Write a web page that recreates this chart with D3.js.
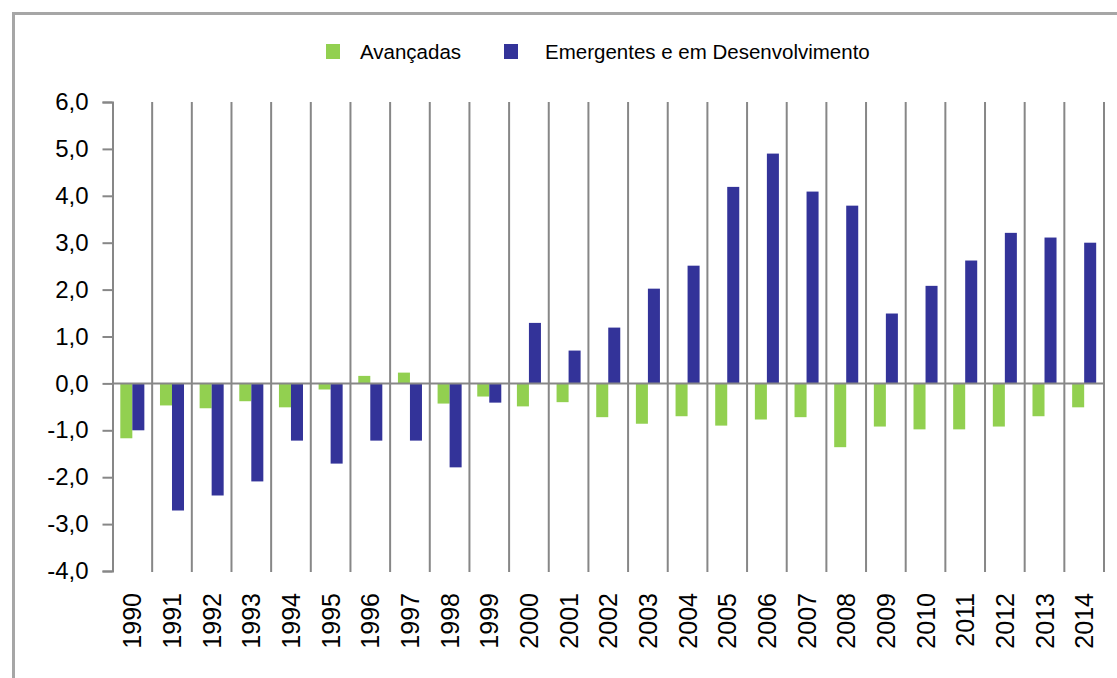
<!DOCTYPE html>
<html lang="pt">
<head>
	<meta charset="UTF-8">
	<title>Avançadas vs Emergentes</title>
	<script src="https://cdn.jsdelivr.net/npm/d3@7"></script>
	<style>
		body { margin: 0; background: #fff; }
		text { font-family: "Liberation Sans", Arial, sans-serif; fill: #000; }
	</style>
</head>
<body>
	<svg id="svg"></svg>
	<script>
		var years = ["1990","1991","1992","1993","1994","1995","1996","1997","1998","1999",
			"2000","2001","2002","2003","2004","2005","2006","2007","2008","2009",
			"2010","2011","2012","2013","2014"];
		var seriesNames = ["Avançadas", "Emergentes e em Desenvolvimento"];
		var avancadas = [-1.17,-0.47,-0.53,-0.38,-0.51,-0.13,0.16,0.23,-0.43,-0.28,
			-0.49,-0.40,-0.72,-0.86,-0.70,-0.90,-0.77,-0.72,-1.36,-0.92,
			-0.98,-0.98,-0.92,-0.70,-0.51];
		var emergentes = [-1.0,-2.71,-2.39,-2.09,-1.22,-1.71,-1.22,-1.22,-1.79,-0.41,
			1.29,0.70,1.19,2.02,2.51,4.19,4.90,4.09,3.79,1.49,
			2.08,2.62,3.21,3.11,3.0];
		var yTicks = [-4,-3,-2,-1,0,1,2,3,4,5,6];
		var colors = ["#92d050", "#333399"];

		var w = 1117, h = 678,
			svg = d3.select("#svg").attr("width", w).attr("height", h),
			plotL = 112.5, plotR = 1104, plotT = 102, plotB = 571,
			gridColor = "#878787";

		var rows = years.map(function(yr, i) {
			return {year: yr, values: [avancadas[i], emergentes[i]]};
		});

		var x = d3.scaleBand().domain(years).range([plotL, plotR]).padding(0);
		var xs = d3.scaleBand().domain([0, 1]).range([0, x.bandwidth()])
			.paddingInner(0).paddingOuter(0.65);
		var y = d3.scaleLinear().domain([-4, 6]).range([plotB, plotT]);

		var fmt = d3.formatLocale({decimal: ",", thousands: ".", grouping: [3],
			currency: ["", ""], minus: "-"}).format(".1f");

		// frame
		svg.append("rect")
			.attr("x", 13.5).attr("y", 13.5)
			.attr("width", 1300).attr("height", 900)
			.attr("fill", "none").attr("stroke", "#a6a6a6").attr("stroke-width", 3);

		// vertical gridlines between categories
		svg.append("g").selectAll("line")
			.data(years)
			.enter().append("line")
			.attr("x1", function(d) { return x(d) + x.bandwidth(); })
			.attr("x2", function(d) { return x(d) + x.bandwidth(); })
			.attr("y1", plotT).attr("y2", plotB + 1)
			.attr("stroke", gridColor).attr("stroke-width", 2);

		// y axis
		var yAxis = svg.append("g")
			.attr("transform", "translate(" + plotL + ",0)")
			.call(d3.axisLeft(y).tickValues(yTicks).tickSize(10).tickPadding(14).tickFormat(fmt));
		yAxis.select(".domain").attr("stroke", gridColor).attr("stroke-width", 2);
		yAxis.selectAll(".tick line").attr("stroke", gridColor).attr("stroke-width", 2);
		yAxis.selectAll(".tick text")
			.style("font-size", "24px")
			.attr("font-family", null);

		// bars
		var groups = svg.append("g").selectAll("g")
			.data(rows)
			.enter().append("g")
			.attr("transform", function(d) { return "translate(" + x(d.year) + ",0)"; });
		groups.selectAll("rect")
			.data(function(d) { return d.values; })
			.enter().append("rect")
			.attr("x", function(d, i) { return xs(i); })
			.attr("width", xs.bandwidth())
			.attr("y", function(d) { return y(Math.max(0, d)); })
			.attr("height", function(d) { return Math.abs(y(d) - y(0)); })
			.attr("fill", function(d, i) { return colors[i]; });

		// zero line
		svg.append("line")
			.attr("x1", plotL).attr("x2", plotR)
			.attr("y1", y(0)).attr("y2", y(0))
			.attr("stroke", gridColor).attr("stroke-width", 2);

		// year labels
		svg.append("g").selectAll("text")
			.data(years)
			.enter().append("text")
			.attr("transform", function(d) {
				return "translate(" + (x(d) + x.bandwidth() / 2 + 9) + "," + (plotB + 22) + ") rotate(-90)";
			})
			.attr("text-anchor", "end")
			.style("font-size", "25px")
			.text(function(d) { return d; });

		// legend
		var legendX = [326, 504], legendText = [360, 545];
		var legend = svg.append("g").selectAll("g")
			.data(seriesNames)
			.enter().append("g");
		legend.append("rect")
			.attr("x", function(d, i) { return legendX[i]; })
			.attr("y", 44).attr("width", 14).attr("height", 15)
			.attr("fill", function(d, i) { return colors[i]; });
		legend.append("text")
			.attr("x", function(d, i) { return legendText[i]; })
			.attr("y", 59)
			.style("font-size", "20.5px")
			.text(function(d) { return d; });
	</script>
</body>
</html>
